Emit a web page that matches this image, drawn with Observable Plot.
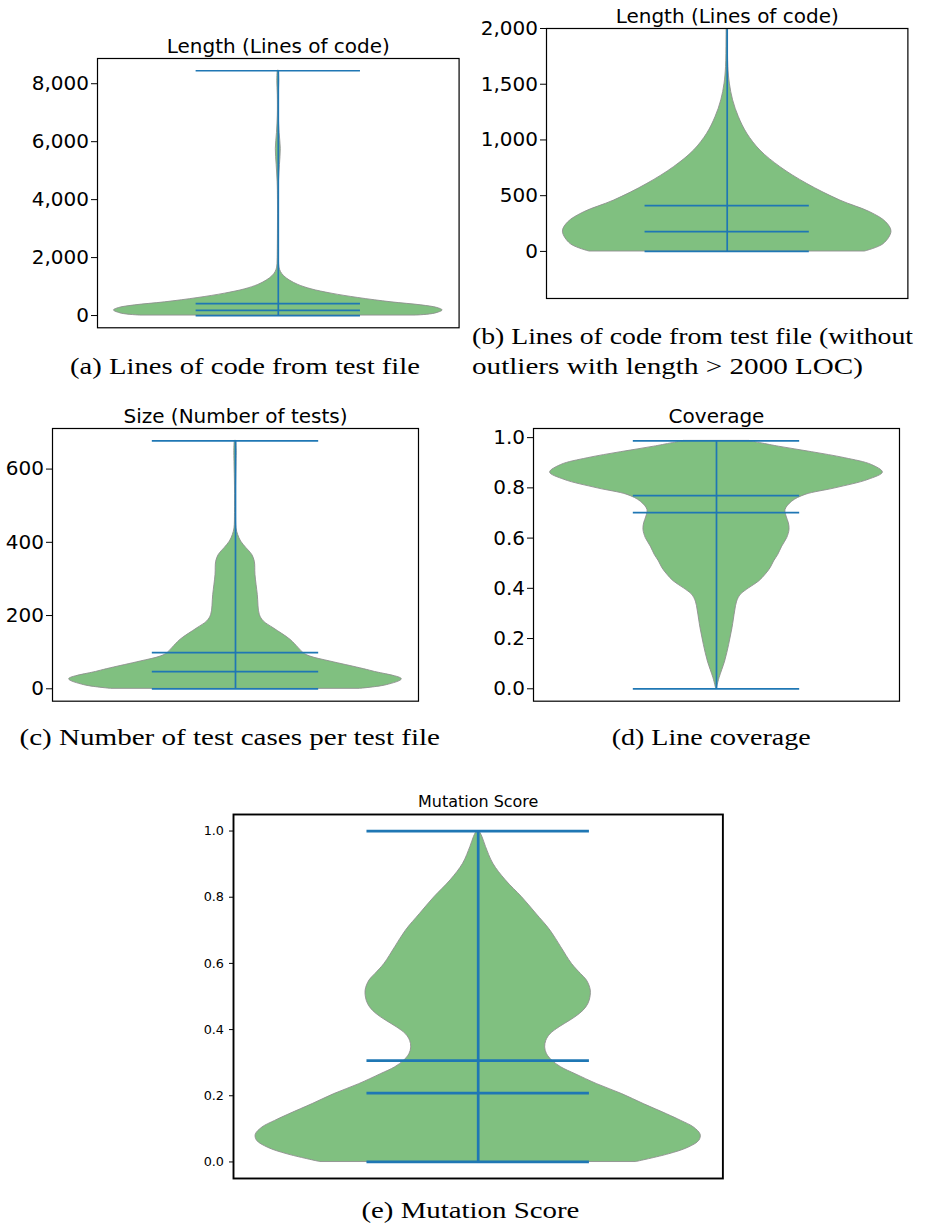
<!DOCTYPE html>
<html>
<head>
<meta charset="utf-8">
<script src="https://cdn.jsdelivr.net/npm/d3@7"></script>
<script src="https://cdn.jsdelivr.net/npm/@observablehq/plot@0.6"></script>
<style>
  html, body { margin: 0; padding: 0; background: #fff; }
  #root { position: relative; width: 925px; height: 1227px; overflow: hidden; background: #fff; }
  #root svg { position: absolute; }
</style>
</head>
<body>
<div id="root"></div>
<script>
// ---------- DATA ----------
// Violin outlines: value -> relative half-width (1 = widest point)
const locValues = [0, 66, 177, 261, 351, 456, 606, 756, 905, 1056, 1205, 1355, 1505, 1655, 1900, 2300, 3000, 4000, 4600, 5200, 5750, 6300, 6900, 7600, 8100, 8448];
const locWidths = [0.841, 0.953, 1.0, 0.968, 0.871, 0.689, 0.486, 0.324, 0.202, 0.122, 0.071, 0.036, 0.016, 0.007, 0.004, 0.003, 0.002, 0.002, 0.004, 0.010, 0.015, 0.008, 0.003, 0.003, 0.006, 0.004];
const locStats = [0, 177, 411, 8448]; // min, median, mean, max

const testValues = [0, 10, 26, 47, 56, 74.5, 88, 97, 111, 134, 165, 184, 202, 256, 311, 347, 366, 384, 402, 420, 438, 480, 550, 620, 650, 677];
const testWidths = [0.75, 0.91, 1.0, 0.83, 0.75, 0.57, 0.45, 0.41, 0.38, 0.33, 0.23, 0.17, 0.146, 0.134, 0.12, 0.116, 0.10, 0.066, 0.034, 0.016, 0.006, 0.003, 0.003, 0.006, 0.007, 0.005];
const testStats = [0, 47, 99, 677];

const covValues = [0, 0.042, 0.109, 0.175, 0.241, 0.308, 0.347, 0.374, 0.4, 0.427, 0.454, 0.48, 0.507, 0.533, 0.566, 0.6, 0.633, 0.659, 0.686, 0.712, 0.745, 0.772, 0.798, 0.832, 0.861, 0.891, 0.918, 0.942, 0.964, 0.987];
const covWidths = [0.002, 0.018, 0.052, 0.076, 0.096, 0.112, 0.124, 0.146, 0.196, 0.256, 0.295, 0.325, 0.346, 0.371, 0.395, 0.425, 0.439, 0.435, 0.421, 0.415, 0.455, 0.535, 0.714, 0.914, 1.0, 0.934, 0.774, 0.575, 0.375, 0.196];
const covStats = [0, 0.7015, 0.769, 0.987];

const mutValues = [0, 0.023, 0.043, 0.064, 0.082, 0.104, 0.124, 0.144, 0.175, 0.205, 0.235, 0.265, 0.286, 0.306, 0.326, 0.346, 0.366, 0.386, 0.407, 0.427, 0.447, 0.467, 0.487, 0.518, 0.548, 0.568, 0.598, 0.649, 0.699, 0.75, 0.8, 0.851, 0.901, 0.952, 0.982, 1.0];
const mutWidths = [0.712, 0.857, 0.945, 0.994, 1.0, 0.97, 0.913, 0.849, 0.744, 0.647, 0.535, 0.438, 0.373, 0.333, 0.309, 0.301, 0.306, 0.325, 0.366, 0.414, 0.457, 0.486, 0.501, 0.506, 0.489, 0.462, 0.422, 0.373, 0.325, 0.261, 0.197, 0.124, 0.068, 0.035, 0.019, 0.006];
const mutStats = [0, 0.208, 0.306, 1.0];

// Tick labels
const locTicksA = [0, 2000, 4000, 6000, 8000];
const locTicksB = [0, 500, 1000, 1500, 2000];
const testTicks = [0, 200, 400, 600];
const fracTicks = [0, 0.2, 0.4, 0.6, 0.8, 1.0];

// Titles and captions
const titles = ["Length (Lines of code)", "Length (Lines of code)", "Size (Number of tests)", "Coverage", "Mutation Score"];
const captionTexts = [
  "(a) Lines of code from test file",
  "(b) Lines of code from test file (without",
  "outliers with length > 2000 LOC)",
  "(c) Number of test cases per test file",
  "(d) Line coverage",
  "(e) Mutation Score"
];

// ---------- LAYOUT ----------
const root = document.getElementById("root");
const comma = d3.format(",");
const one = d3.format(".1f");

function violinPanel(opts) {
  const {values, widths, stats, frame, yDomain, ticks, fmt, title,
         fontSize, titleSize, lineWidth, frameWidth, tickSize, tickPadding} = opts;
  const mL = 110, mR = 20, mT = 45, mB = 20;
  const W = frame.x1 - frame.x0, H = frame.y1 - frame.y0;
  const data = values.map((v, i) => ({v, w: widths[i]}));
  const blue = "#1f77b4";
  const svg = Plot.plot({
    width: W + mL + mR,
    height: H + mT + mB,
    marginLeft: mL, marginRight: mR, marginTop: mT, marginBottom: mB,
    x: {domain: [0.725, 1.275], axis: null},
    y: {domain: yDomain, ticks, tickFormat: fmt, tickSize, tickPadding, label: null},
    style: {fontFamily: "DejaVu Sans", fontSize: fontSize + "px", color: "black", background: "transparent", overflow: "visible"},
    marks: [
      Plot.areaX(data, {
        y: "v",
        x1: d => 1 - 0.25 * d.w,
        x2: d => 1 + 0.25 * d.w,
        fill: "#80c080",
        stroke: "#8f8f8f",
        strokeWidth: 0.9,
        curve: "catmull-rom",
        clip: true
      }),
      Plot.ruleX([1], {y1: stats[0], y2: stats[3], stroke: blue, strokeWidth: lineWidth, clip: true}),
      Plot.ruleY(stats, {x1: 0.875, x2: 1.125, stroke: blue, strokeWidth: lineWidth, clip: true}),
      Plot.frame({stroke: "black", strokeWidth: frameWidth}),
      Plot.text([title], {text: d => d, frameAnchor: "top", dy: -opts.titleGap, lineAnchor: "bottom", fontSize: titleSize, fill: "black"})
    ]
  });
  svg.style.left = (frame.x0 - mL) + "px";
  svg.style.top = (frame.y0 - mT) + "px";
  root.appendChild(svg);
}

const common = {fontSize: 20, titleSize: 20, lineWidth: 1.7, frameWidth: 1.2, tickSize: 6, tickPadding: 2.5, titleGap: 5.5};

violinPanel({...common, values: locValues, widths: locWidths, stats: locStats,
  frame: {x0: 96.7, x1: 458.3, y0: 58, y1: 327.3},
  yDomain: [-422.4, 8870.4], ticks: locTicksA, fmt: comma, title: titles[0]});

violinPanel({...common, values: locValues, widths: locWidths, stats: locStats,
  frame: {x0: 546.3, x1: 907.7, y0: 28.3, y1: 298.3},
  yDomain: [-422.4, 2000], ticks: locTicksB, fmt: comma, title: titles[1]});

violinPanel({...common, values: testValues, widths: testWidths, stats: testStats,
  frame: {x0: 51.7, x1: 417.7, y0: 428.3, y1: 701},
  yDomain: [-33.85, 710.85], ticks: testTicks, fmt: d => String(d), title: titles[2]});

violinPanel({...common, values: covValues, widths: covWidths, stats: covStats,
  frame: {x0: 533.3, x1: 899.3, y0: 428.3, y1: 701},
  yDomain: [-0.04935, 1.03635], ticks: fracTicks, fmt: one, title: titles[3]});

violinPanel({values: mutValues, widths: mutWidths, stats: mutStats,
  frame: {x0: 232.7, x1: 722.1, y0: 814, y1: 1178},
  yDomain: [-0.05, 1.05], ticks: fracTicks, fmt: one, title: titles[4],
  fontSize: 12.8, titleSize: 16, lineWidth: 2.7, frameWidth: 1.9, tickSize: 4, tickPadding: 5.5, titleGap: 7.5});

// ---------- CAPTIONS ----------
const capLayout = [
  {x: 70, y: 373.5, w: 350},
  {x: 472, y: 344, w: 441},
  {x: 472, y: 374, w: 391},
  {x: 19.5, y: 745, w: 420.5},
  {x: 611.7, y: 745, w: 199},
  {x: 361.4, y: 1218.3, w: 218}
];
const cap = d3.create("svg")
  .attr("width", 925).attr("height", 1227)
  .style("left", "0px").style("top", "0px")
  .style("pointer-events", "none");
cap.selectAll("text")
  .data(captionTexts)
  .join("text")
  .attr("x", (d, i) => capLayout[i].x)
  .attr("y", (d, i) => capLayout[i].y)
  .attr("textLength", (d, i) => capLayout[i].w)
  .attr("lengthAdjust", "spacingAndGlyphs")
  .attr("font-family", "Liberation Serif, serif")
  .attr("font-size", 23.5)
  .attr("fill", "black")
  .text(d => d);
root.appendChild(cap.node());
</script>
</body>
</html>
